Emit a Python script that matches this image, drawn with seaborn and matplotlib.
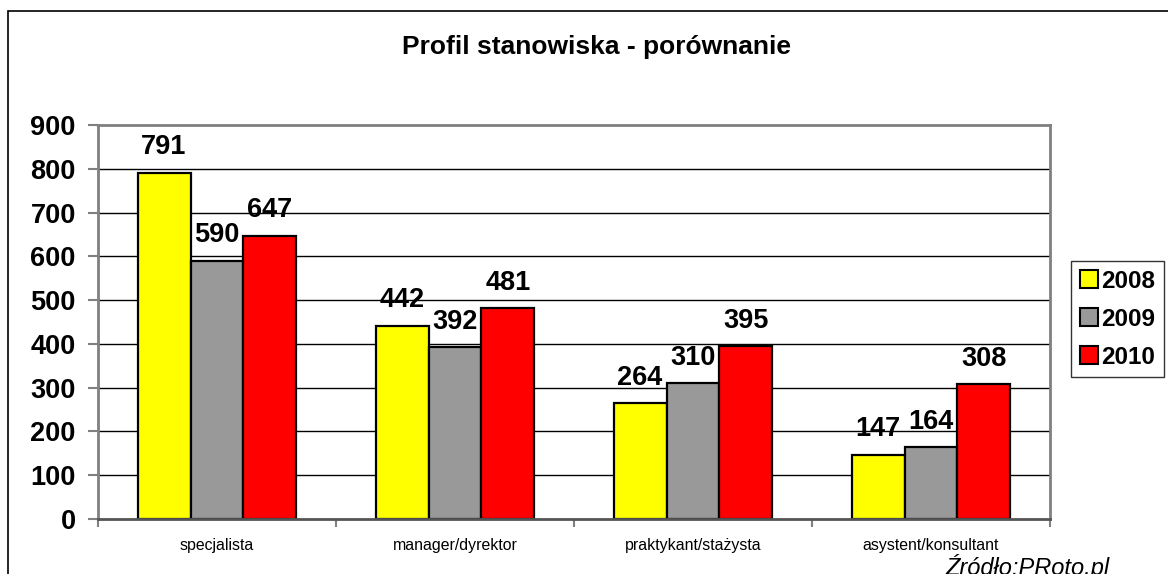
import numpy as np
import pandas as pd
import matplotlib.pyplot as plt
import matplotlib.patches as mpatches
import seaborn as sns

# chart data
categories = ["specjalista", "manager/dyrektor", "praktykant/stażysta", "asystent/konsultant"]
years = ["2008", "2009", "2010"]
v2008 = [791, 442, 264, 147]
v2009 = [590, 392, 310, 164]
v2010 = [647, 481, 395, 308]

df = pd.DataFrame({
    "kategoria": categories * 3,
    "rok": [y for y in years for _ in categories],
    "liczba": v2008 + v2009 + v2010,
})

sns.set_theme(style="white")
plt.rcParams["font.family"] = ["Liberation Sans", "DejaVu Sans"]
plt.rcParams["text.color"] = "black"
plt.rcParams["xtick.color"] = "black"
plt.rcParams["ytick.color"] = "black"
plt.rcParams["xtick.labelcolor"] = "black"
plt.rcParams["ytick.labelcolor"] = "black"

palette = {"2008": "#FFFF00", "2009": "#999999", "2010": "#FF0000"}

fig = plt.figure(figsize=(11.68, 5.74), dpi=100)
ax = fig.add_axes([98 / 1168, 1 - 519 / 574, (1050 - 98) / 1168, (519 - 125) / 574])

sns.barplot(data=df, x="kategoria", y="liczba", hue="rok", order=categories,
            hue_order=years, palette=palette, width=0.668, gap=0,
            edgecolor="black", linewidth=1.6, saturation=1, ax=ax, legend=False)

ax.set_ylim(0, 900)
ax.set_xlim(-0.5, 3.5)
ax.set_yticks(range(0, 1000, 100))
ax.set_yticklabels([str(t) for t in range(0, 1000, 100)], fontsize=19.5, fontweight="bold")
ax.set_xlabel("")
ax.set_ylabel("")
ax.set_axisbelow(True)
for t in range(100, 900, 100):
    ax.axhline(t, color="black", lw=1, zorder=0)

# category ticks between groups
ax.set_xticks(np.arange(-0.5, 4, 1), minor=False)
ax.set_xticklabels([])
ax.set_xticks(range(4), minor=True)
ax.set_xticklabels(categories, minor=True, fontsize=11.4)
ax.tick_params(axis="x", which="minor", length=0, pad=14)
ax.tick_params(axis="x", which="major", length=6, width=1.5, color="#808080", direction="out")
ax.tick_params(axis="y", length=7, width=1.5, color="#808080", direction="out", pad=9)
ax.tick_params(axis="y", left=True)
ax.tick_params(axis="x", bottom=True, which="both")

for side in ["left", "top", "right", "bottom"]:
    ax.spines[side].set_visible(True)
    ax.spines[side].set_color("#808080")
    ax.spines[side].set_linewidth(2)
ax.spines["bottom"].set_color("#555555")

for cont in ax.containers:
    ax.bar_label(cont, padding=9, fontsize=19.5, fontweight="bold", color="black")

fig.text(0.511, 1 - 47 / 574, "Profil stanowiska - porównanie", ha="center", va="center",
         fontsize=19, fontweight="bold")

handles = [mpatches.Patch(facecolor=palette[y], edgecolor="black", linewidth=1.5, label=y)
           for y in years]
leg = fig.legend(handles=handles, loc="upper left",
                 bbox_to_anchor=(1071 / 1168, 1 - 261 / 574),
                 prop={"weight": "bold", "size": 17.5}, frameon=True, fancybox=False,
                 handlelength=0.75, handleheight=0.75, handletextpad=0.15,
                 labelspacing=0.62, borderpad=0.35, borderaxespad=0)
leg.get_frame().set_edgecolor("black")
leg.get_frame().set_linewidth(1)

fig.text(1110 / 1168, 1 - 567 / 574, "Źródło:PRoto.pl", ha="right", va="center",
         fontsize=17, fontstyle="italic")

# outer chart border
fig.add_artist(mpatches.Rectangle((8 / 1168, -0.1), 1.2, 1.1 - 11 / 574,
                                  transform=fig.transFigure, fill=False,
                                  edgecolor="black", lw=1.2))

fig.savefig("out.png", dpi=100)
